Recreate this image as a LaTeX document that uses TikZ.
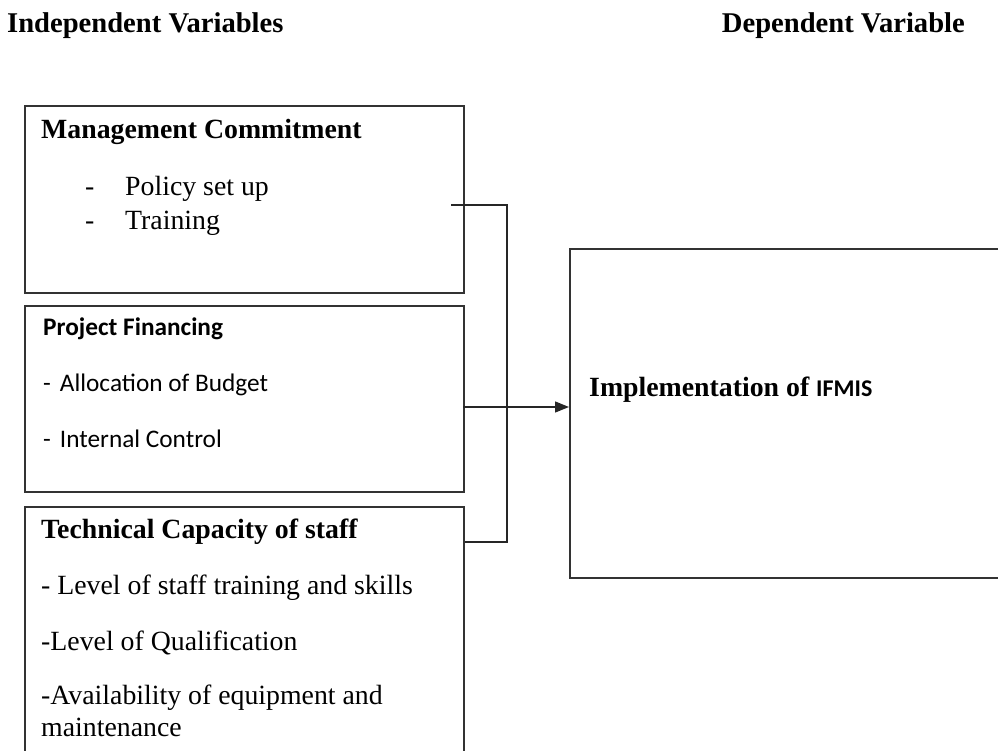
\documentclass[tikz,border=0pt]{standalone}
\usepackage{fontspec}
\setmainfont{Liberation Serif}
\newfontfamily\calib{Carlito}
\usetikzlibrary{arrows.meta}
\begin{document}
\begin{tikzpicture}[x=1pt,y=-1pt,
  box/.style={draw=black!80,line width=1.6pt,rectangle,inner sep=0pt,anchor=north west},
  wire/.style={draw=black!85,line width=1.4pt},
  lbl/.style={anchor=base west,inner sep=0pt,font=\fontsize{27.8}{33}\selectfont},
  head/.style={lbl,font=\fontsize{27.8}{33}\selectfont\bfseries},
  clbl/.style={anchor=base west,inner sep=0pt,font=\calib\fontsize{25.3}{30}\selectfont},
  chead/.style={clbl,font=\calib\fontsize{25.3}{30}\selectfont\bfseries}]
\useasboundingbox (0,0) rectangle (998,751);
\clip (0,0) rectangle (998,751);

% column headings
\node[head,font=\fontsize{28.6}{33}\selectfont\bfseries] (hindep) at (7,33) {Independent Variables};
\node[head,font=\fontsize{28.6}{33}\selectfont\bfseries,anchor=base east] (hdep) at (965,33) {Dependent Variable};

% independent variable boxes
\node[box,minimum width=439pt,minimum height=187pt] (mgmt) at (24,105) {};
\node[box,minimum width=439pt,minimum height=186pt] (fin) at (24,305) {};
\node[box,minimum width=439pt,minimum height=290pt] (tech) at (24,506) {};

% dependent variable box
\node[box,minimum width=470pt,minimum height=329pt] (impl) at (569,248) {};

% Management Commitment
\node[head] (mgmtT) at (41,139) {Management Commitment};
\node[lbl] (d1) at (85,196) {-};
\node[lbl] (p1) at (125,196) {Policy set up};
\node[lbl] (d2) at (85,230) {-};
\node[lbl] (p2) at (125,230) {Training};

% Project Financing
\node[chead] (finT) at (43,335) {Project Financing};
\node[clbl] (f1) at (43,391) {-\hspace{9pt}Allocation of Budget};
\node[clbl] (f2) at (43,447) {-\hspace{9pt}Internal Control};

% Technical Capacity of staff
\node[head] (techT) at (41,538) {Technical Capacity of staff};
\node[lbl] (t1) at (41,594) {- Level of staff training and skills};
\node[lbl] (t2) at (41,650) {-Level of Qualification};
\node[lbl] (t3) at (41,704) {-Availability of equipment and};
\node[lbl] (t4) at (41,736) {maintenance};

% Implementation
\node[head] (implT) at (589,396) {Implementation of {\calib\fontsize{24}{28}\selectfont IFMIS}};

% connectors
\coordinate (m) at (451,205);
\coordinate (jt) at (507,205);
\coordinate (jb) at (507,542);
\coordinate (fa) at (463,407);
\path[wire] (m) -- (jt) -- (jb) -- (jb -| tech.east);
\path[wire,-{Triangle[length=14pt,width=11pt]}] (fa) -- (fa -| impl.west);
\end{tikzpicture}
\end{document}
